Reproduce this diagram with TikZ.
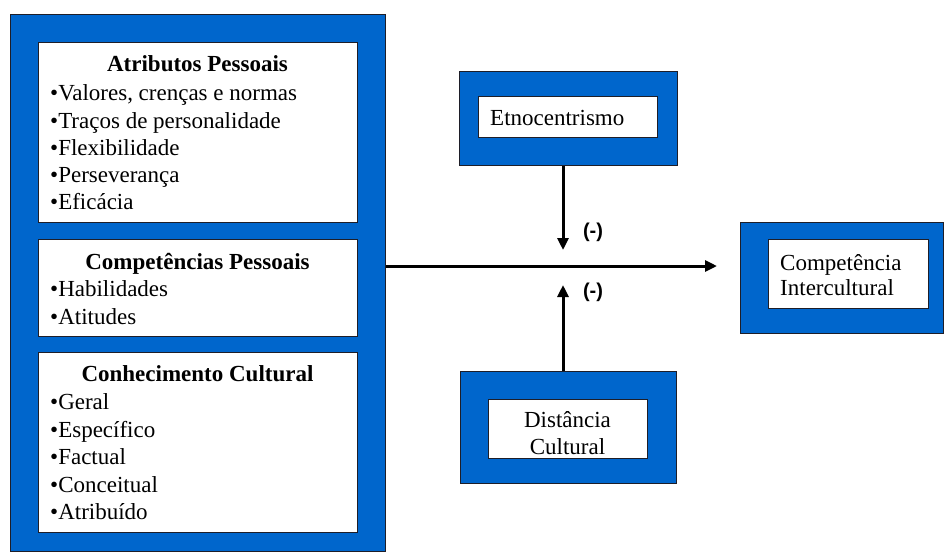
\documentclass[tikz,border=0pt]{standalone}
\usepackage{fontspec}
\setmainfont{Liberation Serif}
\newfontfamily\labelfont{Liberation Sans}
\usetikzlibrary{arrows.meta}
\definecolor{boxblue}{RGB}{0,102,204}
\definecolor{edge}{RGB}{30,30,40}
\begin{document}
\begin{tikzpicture}[x=1pt,y=-1pt,
  outerbox/.style={draw=edge, fill=boxblue, line width=0.8pt, inner sep=0pt, anchor=north west},
  innerbox/.style={draw=edge, fill=white, line width=0.8pt, inner sep=0pt, anchor=north west},
  txt/.style={font=\fontsize{23}{27}\selectfont, inner sep=0pt},
  ttl/.style={txt, font=\fontsize{23}{27}\selectfont\bfseries, anchor=base},
  item/.style={txt, anchor=base west},
  lbl/.style={font=\labelfont\bfseries\fontsize{20}{24}\selectfont, inner sep=0pt},
  conn/.style={line width=3pt, -{Triangle[length=12pt,width=11pt]}}
]
\useasboundingbox (0,0) rectangle (944,552);

% left block
\node[outerbox, minimum width=375pt, minimum height=537pt] (left) at (10,14) {};
\node[innerbox, minimum width=319pt, minimum height=180pt] (b1) at (38,42) {};
\node[innerbox, minimum width=319pt, minimum height=97pt] (b2) at (38,239) {};
\node[innerbox, minimum width=319pt, minimum height=180pt] (b3) at (38,352) {};

\node[ttl] (t1) at (197.5,71.5) {Atributos Pessoais};
\node[item] (a1) at (50,100.5) {•Valores, crenças e normas};
\node[item] (a2) at (50,128) {•Traços de personalidade};
\node[item] (a3) at (50,155) {•Flexibilidade};
\node[item] (a4) at (50,182.5) {•Perseverança};
\node[item] (a5) at (50,209.5) {•Eficácia};

\node[ttl] (t2) at (197.5,269) {Competências Pessoais};
\node[item] (c1) at (50,296.5) {•Habilidades};
\node[item] (c2) at (50,324) {•Atitudes};

\node[ttl] (t3) at (197.5,381) {Conhecimento Cultural};
\node[item] (k1) at (50,409) {•Geral};
\node[item] (k2) at (50,437) {•Específico};
\node[item] (k3) at (50,464) {•Factual};
\node[item] (k4) at (50,492) {•Conceitual};
\node[item] (k5) at (50,519.5) {•Atribuído};

% Etnocentrismo
\node[outerbox, minimum width=218pt, minimum height=94pt] (etno) at (459,71) {};
\node[innerbox, minimum width=179pt, minimum height=41pt] (etnoin) at (478,96) {};
\node[item] (etnot) at (490,125) {Etnocentrismo};

% Distancia Cultural
\node[outerbox, minimum width=216pt, minimum height=112pt] (dist) at (460,371) {};
\node[innerbox, minimum width=159pt, minimum height=59pt] (distin) at (488,399) {};
\node[txt, anchor=base] (dist1) at (567.5,427) {Distância};
\node[txt, anchor=base] (dist2) at (567.5,454) {Cultural};

% Competencia Intercultural
\node[outerbox, minimum width=203pt, minimum height=111pt] (comp) at (740,222) {};
\node[innerbox, minimum width=160pt, minimum height=69pt] (compin) at (768,239) {};
\node[item] (comp1) at (780,270) {Competência};
\node[item] (comp2) at (780,295) {Intercultural};

% connectors
\coordinate (hy) at (0,266);
\coordinate (vx) at (563,0);
\draw[conn, shorten >=23pt] (left.east |- hy) -- (comp.west |- hy);
\coordinate (downend) at (563,250);
\coordinate (upend) at (563,285);
\draw[conn] (etno.south -| vx) -- (downend);
\draw[conn] (dist.north -| vx) -- (upend);

\node[lbl] (m1) at (593,232) {(-)};
\node[lbl] (m2) at (593,292) {(-)};
\end{tikzpicture}
\end{document}
